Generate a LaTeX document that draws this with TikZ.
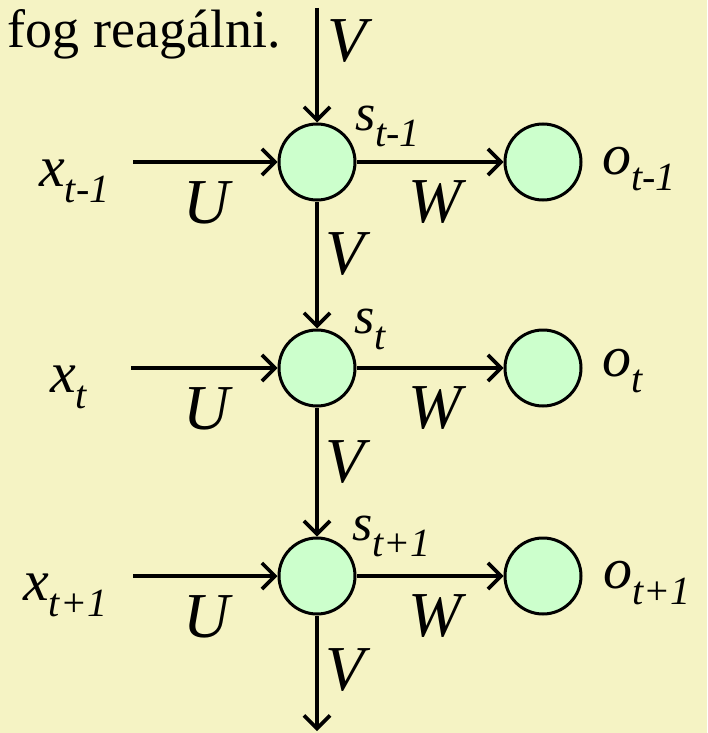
\documentclass[tikz,border=0pt]{standalone}
\usepackage{fontspec}
\setmainfont{Liberation Serif}[ItalicFont={Liberation Serif Italic},BoldFont={Liberation Serif Bold}]
\usetikzlibrary{arrows.meta,positioning}
\definecolor{slidebg}{RGB}{245,243,196}
\definecolor{cellgreen}{RGB}{204,255,204}
\newcommand{\lsub}[2]{#1\raisebox{-16pt}{\fontsize{40}{40}\selectfont #2}}

\begin{document}
\begin{tikzpicture}[x=1pt,y=-1pt,
  st/.style={circle,draw,line width=3pt,fill=cellgreen,minimum size=76pt,inner sep=0pt},
  f/.style={-{Straight Barb[length=13pt,width=26pt]},line width=3.6pt},
  wt/.style={font=\fontsize{64}{64}\selectfont\itshape,inner sep=0pt,anchor=base west},
  lab/.style={font=\fontsize{58}{58}\selectfont\itshape,inner sep=0pt,anchor=base west},
  slab/.style={font=\fontsize{52}{52}\selectfont\itshape,inner sep=0pt,anchor=base west}]
\fill[slidebg] (0,0) rectangle (707,733);
\useasboundingbox (0,0) rectangle (707,733);
\node[font=\fontsize{54}{54}\selectfont,inner sep=0pt,anchor=base east] (txt) at (281,48) {fog reagálni.};
% states
\node[st] (s1) at (317,162) {};
\node[st] (s2) at (317,368) {};
\node[st] (s3) at (317,576) {};
% outputs
\node[st] (o1) at (543,162) {};
\node[st] (o2) at (543,368) {};
\node[st] (o3) at (543,576) {};
% inputs
\node[lab] (x1) at (39,186) {\lsub{x}{t-1}};
\node[lab] (x2) at (50,392) {\lsub{x}{t}};
\node[lab] (x3) at (23,600) {\lsub{x}{t+1}};
\coordinate (in1) at (133,162);
\coordinate (in2) at (131,368);
\coordinate (in3) at (133,576);
\coordinate (top) at (317,8);
\coordinate (bot) at (317,731);
% labels
\node[slab] (l1) at (355,131) {\lsub{s}{t-1}};
\node[slab] (l2) at (354,333) {\lsub{s}{t}};
\node[slab] (l3) at (352,540) {\lsub{s}{t+1}};
\node[lab] (p1) at (602,174) {\lsub{o}{t-1}};
\node[lab] (p2) at (602,376) {\lsub{o}{t}};
\node[lab] (p3) at (603,588) {\lsub{o}{t+1}};
\draw[f] (top) -- (s1); \draw[f] (s1) -- (s2); \draw[f] (s2) -- (s3); \draw[f] (s3) -- (bot);
\draw[f] (in1) -- (s1); \draw[f] (in2) -- (s2); \draw[f] (in3) -- (s3);
\draw[f] (s1) -- (o1); \draw[f] (s2) -- (o2); \draw[f] (s3) -- (o3);
\node[wt] (v0) at (327,62) {V};
\node[wt] (v1) at (325,274) {V};
\node[wt] (v2) at (325,482) {V};
\node[wt] (v3) at (325,690) {V};
\node[wt] (u1) at (183,223) {U};
\node[wt] (u2) at (183,429) {U};
\node[wt] (u3) at (183,637) {U};
\node[wt] (w1) at (408,222) {W};
\node[wt] (w2) at (408,428) {W};
\node[wt] (w3) at (408,636) {W};
\end{tikzpicture}
\end{document}
